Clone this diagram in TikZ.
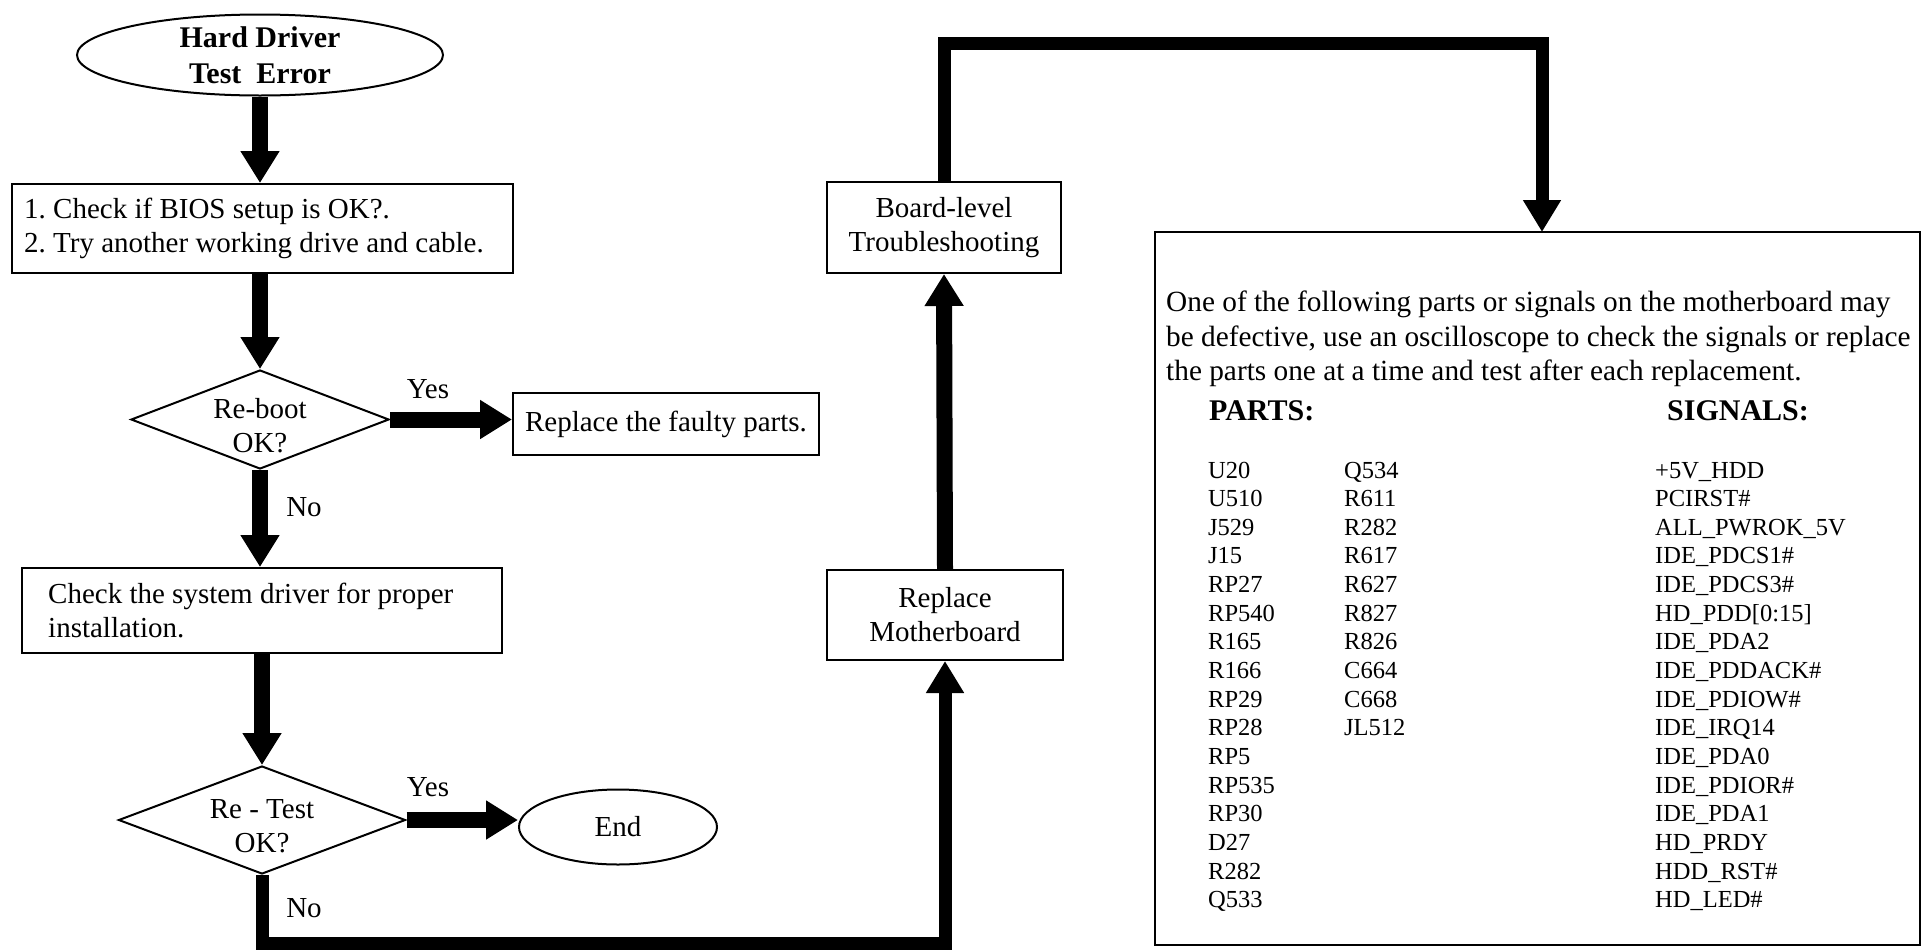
\documentclass[tikz,border=0pt]{standalone}
\usepackage{fontspec}
\setmainfont{Liberation Serif}
\usetikzlibrary{arrows.meta,shapes.geometric}
\frenchspacing
\tikzset{
  box/.style={draw, line width=2pt, rectangle, inner sep=0pt},
  oval/.style={draw, line width=2pt, ellipse, inner sep=0pt},
  dia/.style={draw, line width=2pt, diamond, inner sep=0pt, aspect=2.6},
  flow/.style={line width=16pt, -{Triangle[length=32pt,width=37pt]}},
  longflow/.style={line width=13pt, line join=miter, -{Triangle[length=32pt,width=36pt]}},
  ft/.style={font=\fontsize{29}{34}\selectfont\frenchspacing},
  bt/.style={font=\fontsize{29.3}{34.4}\selectfont\frenchspacing},
  pt/.style={font=\fontsize{24.5}{28}\selectfont, inner sep=0pt},
  lbl/.style={font=\fontsize{29}{34}\selectfont, inner sep=0pt},
  hd/.style={anchor=west, inner sep=0pt, font=\fontsize{30}{32}\selectfont\bfseries}
}
\begin{document}
\begin{tikzpicture}[x=1pt,y=-1pt]
\useasboundingbox (0,0) rectangle (1925,951);
% nodes
\node[oval, minimum width=366pt, minimum height=81pt, align=center,
  font=\fontsize{30}{36}\selectfont\bfseries] (start) at (260,55) {Hard Driver\\Test\ \ Error};
\node[box, minimum width=501pt, minimum height=89pt,
  label={[ft, align=left, anchor=west, inner sep=0pt, xshift=13pt]west:1. Check if BIOS setup is OK?.\\2. Try another working drive and cable.}] (b1) at (262.5,228.5) {};
\node[dia, minimum width=258pt, minimum height=99pt,
  label={[ft, align=center, yshift=-6pt]center:Re-boot\\OK?}] (d1) at (260,419.5) {};
\node[box, minimum width=306pt, minimum height=62pt, ft] (fp) at (666,424) {Replace the faulty parts.};
\node[box, minimum width=480pt, minimum height=85pt,
  label={[ft, align=left, anchor=west, inner sep=0pt, xshift=27pt]west:Check the system driver for proper\\installation.}] (b3) at (262,610.5) {};
\node[dia, minimum width=287pt, minimum height=108pt,
  label={[ft, align=center, yshift=-6pt]center:Re - Test\\OK?}] (d2) at (262,820) {};
\node[oval, minimum width=198pt, minimum height=75pt, ft] (end) at (618,827) {End};
\node[box, minimum width=236pt, minimum height=90pt, align=center, ft] (rm) at (945,615) {Replace\\Motherboard};
\node[box, minimum width=234pt, minimum height=91pt, align=center, ft] (bl) at (944,227.5) {Board-level\\Troubleshooting};
\node[box, minimum width=765pt, minimum height=713pt] (big) at (1537.5,588.5) {};
% labels
\node[lbl] (y1) at (428,389) {Yes};
\node[lbl] (n1) at (304,507) {No};
\node[lbl] (y2) at (428,787) {Yes};
\node[lbl] (n2) at (304,908) {No};
% big box text
\node[bt, anchor=north west, align=left, inner sep=0pt] (para) at (1166,291)
  {One of the following parts or signals on the motherboard may\\
   be defective, use an oscilloscope to check the signals or replace\\
   the parts one at a time and test after each replacement.};
\node[hd] (parts) at (1209,411) {PARTS:};
\node[hd] (sigs) at (1667,411) {SIGNALS:};
\foreach \t [count=\i] in {U20,U510,J529,J15,RP27,RP540,R165,R166,RP29,RP28,RP5,RP535,RP30,D27,R282,Q533}
  \node[pt, anchor=base west] (pa\i) at (1208,{478+28.65*(\i-1)}) {\t};
\foreach \t [count=\i] in {Q534,R611,R282,R617,R627,R827,R826,C664,C668,JL512}
  \node[pt, anchor=base west] (pb\i) at (1344,{478+28.65*(\i-1)}) {\t};
\foreach \t [count=\i] in {+5V\_HDD,PCIRST\#,ALL\_PWROK\_5V,IDE\_PDCS1\#,IDE\_PDCS3\#,HD\_PDD[0:15],IDE\_PDA2,IDE\_PDDACK\#,IDE\_PDIOW\#,IDE\_IRQ14,IDE\_PDA0,IDE\_PDIOR\#,IDE\_PDA1,HD\_PRDY,HDD\_RST\#,HD\_LED\#}
  \node[pt, anchor=base west] (sg\i) at (1655,{478+28.65*(\i-1)}) {\t};
% connectors
\draw[flow] (start.south) -- (start.south |- b1.north);
\draw[flow] (b1.south -| d1.north) -- (d1.north);
\draw[flow] (d1.east) -- (d1.east -| fp.west);
\draw[flow] (d1.south) -- (d1.south |- b3.north);
\draw[flow] (b3.south -| d2.north) -- (d2.north);
\draw[flow] (d2.east) -- (d2.east -| end.west);
\coordinate (nobot) at (262,943);
\draw[longflow] (d2.south) -- (nobot) -| (rm.south);
\draw[flow] (rm.north) -- (bl.south);
\coordinate (topy) at (944,43);
\coordinate (bigin) at (1542,232);
\draw[longflow] (bl.north) -- (topy) -| (bigin);
\end{tikzpicture}
\end{document}
